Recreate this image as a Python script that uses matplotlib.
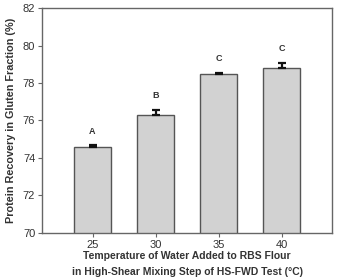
import matplotlib
matplotlib.use("Agg")
import matplotlib.pyplot as plt
import numpy as np

temps = [25, 30, 35, 40]
recovery = [74.6, 76.3, 78.5, 78.8]
err = [0.07, 0.27, 0.03, 0.28]
letters = ["A", "B", "C", "C"]

plt.rcParams['font.family'] = ['Liberation Sans', 'DejaVu Sans']

fig = plt.figure(figsize=(3.37, 2.79), dpi=100)
ax = fig.add_axes([0.125, 0.166, 0.86, 0.805])

ax.bar(temps, recovery, width=3.0, color='#d2d2d2', edgecolor='#555555', linewidth=1.0, zorder=2)
ax.errorbar(temps, recovery, yerr=[np.zeros(len(err)), err], fmt='none', ecolor='#111111',
            elinewidth=1.6, capsize=3, capthick=1.6, zorder=3)

# significance letters
for t, v, e, l in zip(temps, recovery, err, letters):
    ax.annotate(l, (t, v + e), xytext=(0, 7), textcoords='offset points',
                ha='center', va='bottom', fontsize=6.5, fontweight='bold', color='#333333')

ax.set_xlim(21, 44)
ax.set_ylim(70, 82)
ax.set_xticks(temps)
ax.set_yticks(np.arange(70, 83, 2))

for s in ax.spines.values():
    s.set_color('#666666')
    s.set_linewidth(1.0)
ax.tick_params(direction='out', length=3, width=0.8, color='#666666', labelsize=8,
               labelcolor='#333333', pad=2)

ax.set_ylabel('Protein Recovery in Gluten Fraction (%)', fontsize=7.8, fontweight='bold',
              color='#333333', labelpad=5)
ax.set_xlabel('Temperature of Water Added to RBS Flour\nin High-Shear Mixing Step of HS-FWD Test (°C)',
              fontsize=7.5, fontweight='bold', color='#333333', linespacing=1.8, labelpad=1)

fig.savefig('out.png', dpi=100)
